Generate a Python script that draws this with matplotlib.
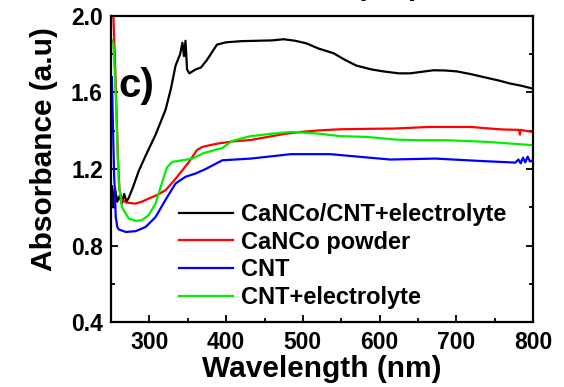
import numpy as np
import matplotlib.pyplot as plt
from matplotlib.ticker import MultipleLocator

plt.rcParams['font.family'] = ['Liberation Sans', 'DejaVu Sans']
plt.rcParams['font.weight'] = 'bold'

# CaNCo/CNT+electrolyte
wl_black = [251, 253, 255, 258, 261, 264, 267, 270, 273, 278, 286, 295, 308, 321, 328, 334, 340,
            343, 345, 347, 349, 352, 360, 367, 375, 388, 400, 420, 440, 460, 475, 490, 505, 520,
            540, 555, 570, 590, 605, 625, 640, 655, 670, 685, 701, 720, 736, 755, 770, 785, 800]
abs_black = [1.11, 1.00, 1.10, 1.03, 1.06, 1.02, 1.07, 1.03, 1.05, 1.10, 1.19, 1.27, 1.38, 1.51, 1.62,
             1.74, 1.80, 1.86, 1.79, 1.87, 1.72, 1.70, 1.72, 1.73, 1.77, 1.85, 1.862, 1.868, 1.87,
             1.872, 1.878, 1.87, 1.856, 1.83, 1.805, 1.77, 1.74, 1.72, 1.71, 1.70, 1.70, 1.708,
             1.716, 1.715, 1.71, 1.695, 1.68, 1.663, 1.647, 1.635, 1.62]

# CaNCo powder
wl_red = [251, 253, 255, 257, 259, 261, 264, 270, 282, 290, 299, 310, 321, 332, 343, 350, 356, 362,
          369, 380, 390, 410, 432, 450, 475, 497, 520, 549, 580, 620, 664, 700, 720, 740, 760, 782,
          783, 784, 790, 800]
abs_red = [2.3, 2.0, 1.77, 1.51, 1.25, 1.09, 1.04, 1.025, 1.02, 1.03, 1.046, 1.065, 1.09, 1.14,
           1.194, 1.23, 1.264, 1.30, 1.316, 1.326, 1.334, 1.345, 1.352, 1.365, 1.383, 1.394, 1.402,
           1.408, 1.41, 1.412, 1.42, 1.42, 1.42, 1.413, 1.407, 1.405, 1.38, 1.405, 1.40, 1.394]

# CNT
wl_blue = [251, 253, 254, 255, 256, 258, 260, 269, 282, 295, 308, 321, 334, 347, 360, 373, 395,
           432, 484, 536, 575, 614, 673, 729, 777, 781, 784, 787, 790, 793, 796, 800]
abs_blue = [1.68, 1.33, 1.16, 1.08, 0.95, 0.90, 0.885, 0.872, 0.876, 0.898, 0.95, 1.04, 1.125,
            1.16, 1.177, 1.20, 1.246, 1.255, 1.278, 1.278, 1.264, 1.25, 1.255, 1.243, 1.234,
            1.25, 1.23, 1.26, 1.235, 1.265, 1.24, 1.246]

# CNT+electrolyte
wl_green = [250, 253, 256, 258, 260, 264, 273, 282, 290, 299, 308, 316, 323, 330, 343, 356, 369,
            385, 395, 408, 420, 432, 460, 484, 519, 549, 584, 621, 649, 686, 742, 800]
abs_green = [1.88, 1.856, 1.595, 1.334, 1.125, 1.003, 0.942, 0.93, 0.933, 0.96, 1.02, 1.125, 1.21,
             1.238, 1.246, 1.255, 1.281, 1.30, 1.31, 1.347, 1.36, 1.372, 1.385, 1.394, 1.386,
             1.372, 1.368, 1.354, 1.351, 1.351, 1.342, 1.325]

labels = ['CaNCo/CNT+electrolyte', 'CaNCo powder', 'CNT', 'CNT+electrolyte']

fig = plt.figure(figsize=(5.64, 3.87), dpi=100)
ax = fig.add_axes([0.197, 0.167, 0.748, 0.792])

ax.plot(wl_black, abs_black, color='black', lw=1.6, label=labels[0])
ax.plot(wl_red, abs_red, color='red', lw=1.6, label=labels[1])
ax.plot(wl_blue, abs_blue, color='blue', lw=1.6, label=labels[2])
ax.plot(wl_green, abs_green, color='#00ee00', lw=1.6, label=labels[3])

ax.set_xlim(250, 800)
ax.set_ylim(0.4, 2.0)
ax.xaxis.set_major_locator(MultipleLocator(100))
ax.xaxis.set_minor_locator(MultipleLocator(50))
ax.yaxis.set_major_locator(MultipleLocator(0.4))
ax.yaxis.set_minor_locator(MultipleLocator(0.2))
ax.yaxis.set_major_formatter(plt.FormatStrFormatter('%.1f'))
ax.tick_params(which='both', direction='in', right=True, width=1.3, labelsize=16.5, pad=6)
ax.tick_params(which='major', length=5)
ax.tick_params(which='minor', length=3)
for s in ax.spines.values():
    s.set_linewidth(1.6)

ax.set_xlabel('Wavelength (nm)', fontsize=21.5, fontweight='bold')
ax.set_ylabel('Absorbance (a.u)', fontsize=21.5, fontweight='bold')
ax.xaxis.set_label_coords(0.5, -0.105)
ax.yaxis.set_label_coords(-0.125, 0.567)

ax.text(0.017, 0.735, 'c)', transform=ax.transAxes, fontsize=29, fontweight='bold')

ax.legend(loc='upper left', bbox_to_anchor=(0.161, 0.39), frameon=False, fontsize=17,
          handlelength=2.3, handletextpad=0.34, labelspacing=0.2, borderpad=0, borderaxespad=0)

# cut-off label from the panel above
fig.text(0.687, 1.012, '(nm)', ha='center', va='baseline', fontsize=21.5, fontweight='bold')

fig.savefig('out.png', dpi=100)
